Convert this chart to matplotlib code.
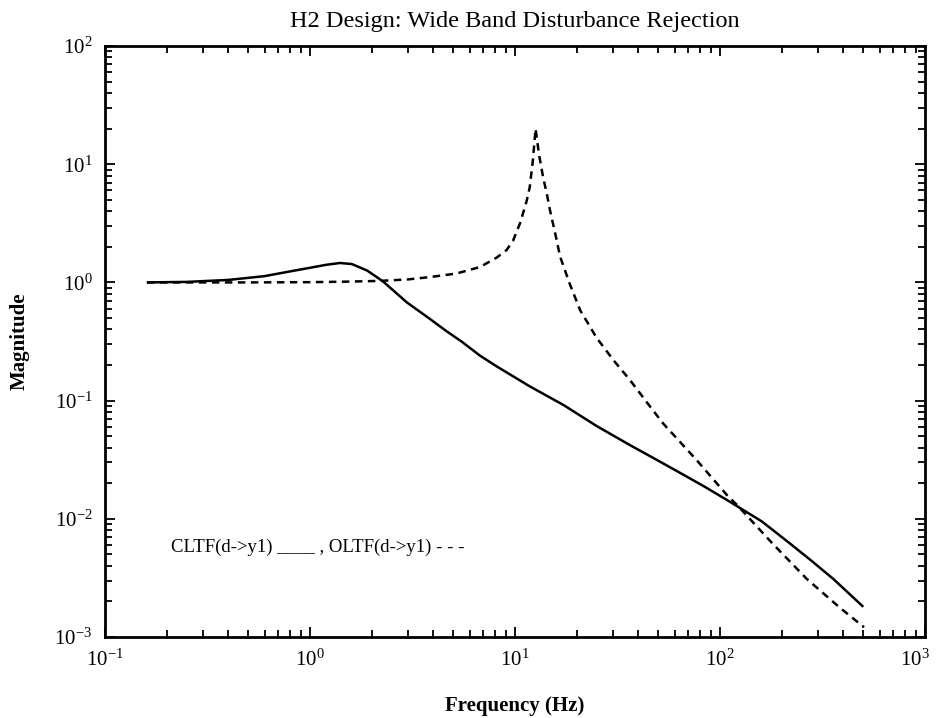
import matplotlib
matplotlib.use("Agg")
from matplotlib import pyplot as plt
from matplotlib import transforms

plt.rcParams['font.family'] = ['Liberation Serif', 'DejaVu Serif']
plt.rcParams['mathtext.fontset'] = 'custom'
plt.rcParams['mathtext.rm'] = 'Liberation Serif'
plt.rcParams['mathtext.it'] = 'Liberation Serif:italic'
plt.rcParams['mathtext.bf'] = 'Liberation Serif:bold'

# closed loop transfer function d -> y1
cl_freq = [0.16, 0.25, 0.4, 0.6, 0.8, 1.0, 1.2, 1.4, 1.6, 1.9, 2.27, 2.96,
           3.85, 4.6, 5.5, 6.75, 8.13, 11.8, 17.2, 25, 36.4, 50, 63.8, 85,
           112, 160, 219, 280, 357, 500]
cl_mag = [1.0, 1.01, 1.05, 1.13, 1.24, 1.33, 1.41, 1.46, 1.43, 1.26, 1.02,
          0.68, 0.49, 0.39, 0.315, 0.24, 0.195, 0.132, 0.092, 0.061, 0.042,
          0.031, 0.0245, 0.0185, 0.0139, 0.0095, 0.0062, 0.0044, 0.0031,
          0.0018]

# open loop transfer function d -> y1
ol_freq = [0.16, 0.5, 1.0, 1.5, 2.19, 3.0, 3.85, 5.19, 6.75, 8.13, 9.1, 9.8,
           10.6, 11.4, 11.8, 12.2, 12.6, 13.1, 13.7, 14.3, 14.8, 15.7, 16.6,
           18.5, 20.8, 25, 30.2, 36.4, 45.6, 52.8, 76.9, 108, 121, 180, 265,
           380, 504]
ol_mag = [1.0, 1.0, 1.005, 1.015, 1.03, 1.06, 1.11, 1.19, 1.35, 1.62, 1.88,
          2.27, 3.2, 4.9, 6.4, 10.5, 20, 12, 7.8, 5.6, 4.1, 2.6, 1.65, 0.97,
          0.58, 0.34, 0.22, 0.149, 0.089, 0.064, 0.0314, 0.0159, 0.0131,
          0.0062, 0.0031, 0.0018, 0.00121]

fig = plt.figure(figsize=(9.37, 7.18), dpi=100)
ax = fig.add_axes([0.1121, 0.1128, 0.8751, 0.8231])

ax.loglog(cl_freq, cl_mag, color='black', lw=1.8, solid_capstyle='butt')
ax.loglog(ol_freq, ol_mag, color='black', lw=1.8, linestyle=(0, (3, 2.2)))

ax.set_xlim(0.1, 1000)
ax.set_ylim(1e-3, 1e2)

ax.tick_params(which='both', direction='in', top=True, right=True,
               width=1.3, labelsize=15)
ax.tick_params(which='major', length=7, pad=9)
ax.tick_params(which='minor', length=5)
for sp in ax.spines.values():
    sp.set_linewidth(2)

ax.set_title("H2 Design: Wide Band Disturbance Rejection", fontsize=17.5, pad=14)
ax.set_xlabel("Frequency (Hz)", fontsize=15, fontweight='bold', labelpad=18)
ax.set_ylabel("Magnitude", fontsize=15, fontweight='bold', labelpad=18)

ax.text(0.080, 0.151, "CLTF(d->y1) ____ , OLTF(d->y1) - - -", fontsize=13.5,
        transform=ax.transAxes, va='center')

# nudge the 10^3 tick label so it stays inside the figure
fig.canvas.draw()
for tick in ax.xaxis.get_major_ticks():
    if abs(tick.get_loc() - 1000) < 1:
        lab = tick.label1
        lab.set_transform(lab.get_transform() +
                          transforms.ScaledTranslation(-7 / 72, 0, fig.dpi_scale_trans))

plt.savefig("out.png", dpi=100)
